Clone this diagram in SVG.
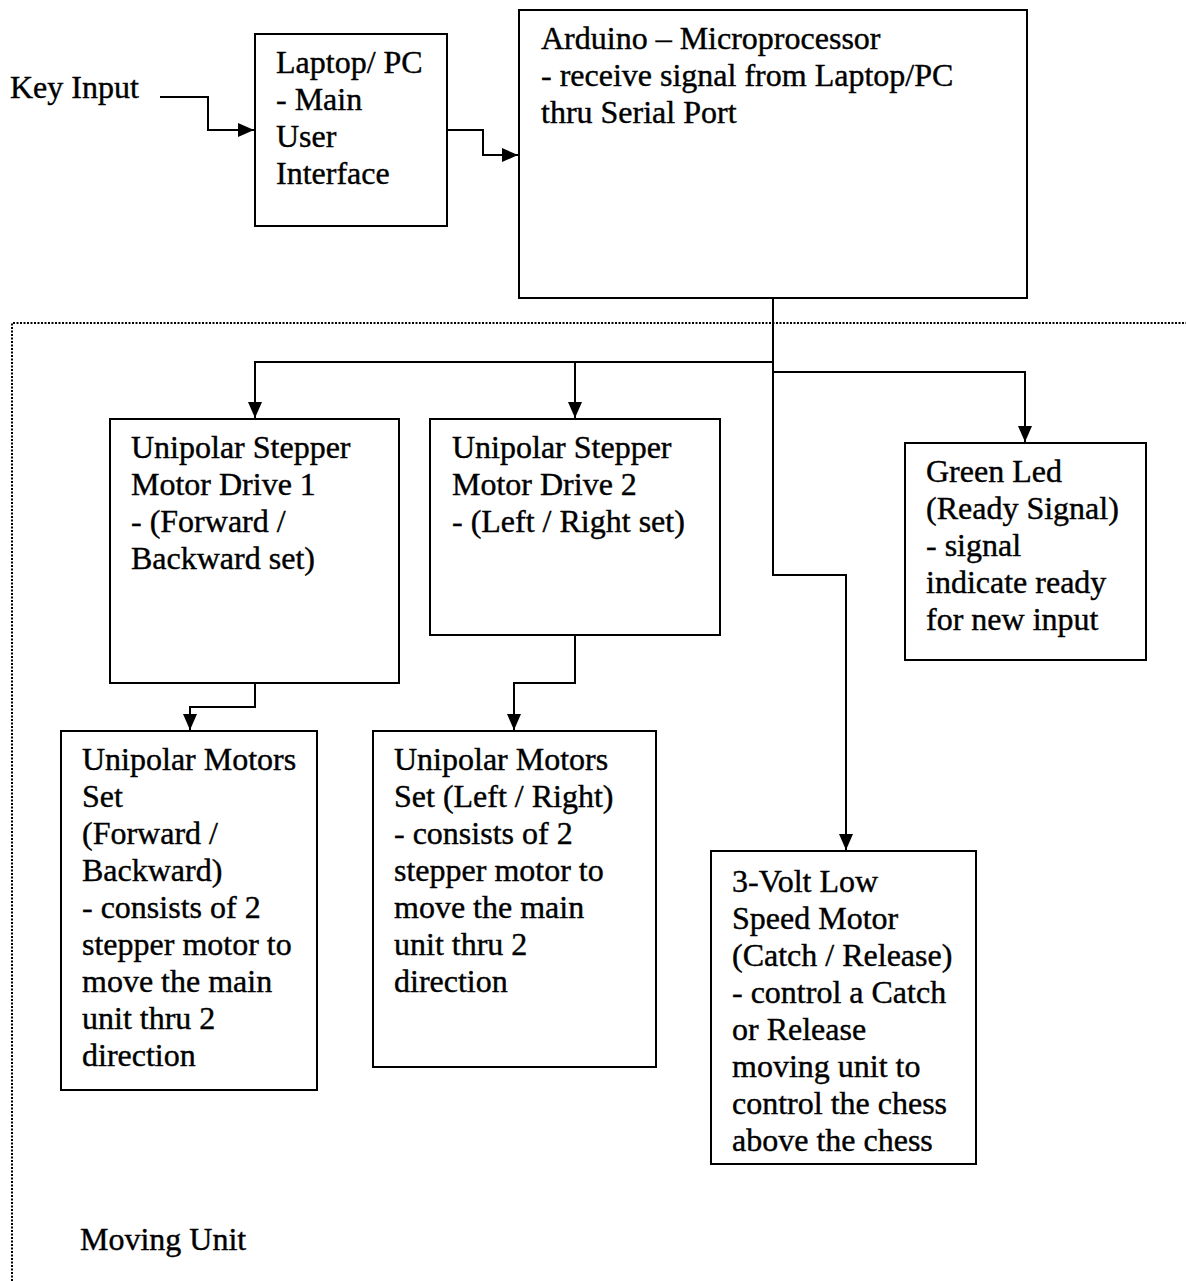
<svg xmlns="http://www.w3.org/2000/svg" width="1186" height="1281" viewBox="0 0 1186 1281">
<defs>
<marker id="ah" viewBox="0 0 16 14" refX="16" refY="7" markerWidth="16" markerHeight="14" markerUnits="userSpaceOnUse" orient="auto"><path d="M0,0 L16,7 L0,14 Z" fill="#000"/></marker>
<style>
text{font-family:"Liberation Serif","Times New Roman",serif;font-size:32px;fill:#000;stroke:#000;stroke-width:0.4}
.box{fill:#fff;stroke:#000;stroke-width:2}
.c{fill:none;stroke:#000;stroke-width:2}
.a{fill:none;stroke:#000;stroke-width:2;marker-end:url(#ah)}
.dot{fill:none;stroke:#000;stroke-width:2;stroke-dasharray:2 1.5}
</style>
</defs>
<rect width="1186" height="1281" fill="#fff"/>
<path class="dot" d="M12,1281 V323 H1186"/>
<g id="connectors">
<path class="a" d="M160,97 H208 V130 H254"/>
<path class="a" d="M447,130 H483 V155 H518"/>
<path class="c" d="M773,298 V362"/>
<path class="a" d="M773,362 H255 V418"/>
<path class="a" d="M575,362 V418"/>
<path class="a" d="M773,362 V575 H846 V850"/>
<path class="a" d="M773,372 H1025 V442"/>
<path class="a" d="M255,683 V707 H190 V730"/>
<path class="a" d="M575,635 V683 H514 V730"/>
</g>
<text x="10" y="98">Key Input</text>
<g id="laptop"><rect class="box" x="255" y="34" width="192" height="192"/>
<text x="276" y="73">Laptop/ PC</text><text x="276" y="110">- Main</text><text x="276" y="147">User</text><text x="276" y="184">Interface</text></g>
<g id="arduino"><rect class="box" x="519" y="10" width="508" height="288"/>
<text x="541" y="49">Arduino – Microprocessor</text><text x="541" y="86">- receive signal from Laptop/PC</text><text x="541" y="123">thru Serial Port</text></g>
<g id="drive1"><rect class="box" x="110" y="419" width="289" height="264"/>
<text x="131" y="458">Unipolar Stepper</text><text x="131" y="495">Motor Drive 1</text><text x="131" y="532">- (Forward /</text><text x="131" y="569">Backward set)</text></g>
<g id="drive2"><rect class="box" x="430" y="419" width="290" height="216"/>
<text x="452" y="458">Unipolar Stepper</text><text x="452" y="495">Motor Drive 2</text><text x="452" y="532">- (Left / Right set)</text></g>
<g id="greenled"><rect class="box" x="905" y="443" width="241" height="217"/>
<text x="926" y="482">Green Led</text><text x="926" y="519">(Ready Signal)</text><text x="926" y="556">- signal</text><text x="926" y="593">indicate ready</text><text x="926" y="630">for new input</text></g>
<g id="motors1"><rect class="box" x="61" y="731" width="256" height="359"/>
<text x="82" y="770">Unipolar Motors</text><text x="82" y="807">Set</text><text x="82" y="844">(Forward /</text><text x="82" y="881">Backward)</text><text x="82" y="918">- consists of 2</text><text x="82" y="955">stepper motor to</text><text x="82" y="992">move the main</text><text x="82" y="1029">unit thru 2</text><text x="82" y="1066">direction</text></g>
<g id="motors2"><rect class="box" x="373" y="731" width="283" height="336"/>
<text x="394" y="770">Unipolar Motors</text><text x="394" y="807">Set (Left / Right)</text><text x="394" y="844">- consists of 2</text><text x="394" y="881">stepper motor to</text><text x="394" y="918">move the main</text><text x="394" y="955">unit thru 2</text><text x="394" y="992">direction</text></g>
<g id="lowspeed"><rect class="box" x="711" y="851" width="265" height="313"/>
<text x="732" y="892">3-Volt Low</text><text x="732" y="929">Speed Motor</text><text x="732" y="966">(Catch / Release)</text><text x="732" y="1003">- control a Catch</text><text x="732" y="1040">or Release</text><text x="732" y="1077">moving unit to</text><text x="732" y="1114">control the chess</text><text x="732" y="1151">above the chess</text></g>
<text x="80" y="1250">Moving Unit</text>
</svg>
